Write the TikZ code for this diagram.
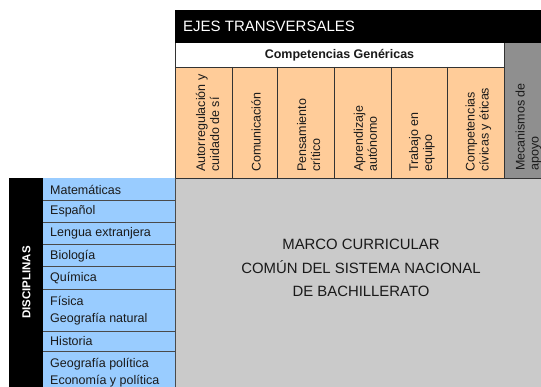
\documentclass[tikz,border=0pt]{standalone}
\usepackage{fontspec}
\setmainfont{Liberation Sans}
\definecolor{orangec}{HTML}{FFCC99}
\definecolor{bluec}{HTML}{99CCFF}
\definecolor{lgray}{HTML}{CACACA}
\definecolor{dgray}{HTML}{8F8F8F}
\definecolor{linec}{HTML}{333333}
\definecolor{rowline}{HTML}{4A4A4A}
\definecolor{txt}{HTML}{1A1A1A}
\tikzset{
  collabel/.style={rotate=90, anchor=west, align=left, inner sep=0pt, text=txt,
    font=\fontsize{12.5}{14}\selectfont},
  rowlabel/.style={anchor=west, align=left, inner sep=0pt, text=txt,
    font=\fontsize{12.5}{17.5}\selectfont},
  grid/.style={draw=linec, line width=0.8pt},
  rgrid/.style={draw=rowline, line width=1pt}
}
\begin{document}
\begin{tikzpicture}[x=1pt,y=-1pt]
\useasboundingbox (0,0) rectangle (541,387);
\clip (0,0) rectangle (541,387);
% backgrounds
\fill[white] (0,0) rectangle (541,387);
\fill[black] (175,10) rectangle (560,43);
\fill[white] (175,43) rectangle (504,67);
\fill[orangec] (175,67) rectangle (504,178);
\fill[dgray] (504,43) rectangle (560,178);
\fill[lgray] (175,178) rectangle (560,400);
\fill[black] (9,178) rectangle (43,400);
\fill[bluec] (43,178) rectangle (175,400);
% grid lines of the header
\draw[grid] (175,43) -- (175,178);
\draw[grid] (175,67) -- (504,67);
\foreach \xx in {232,277.5,334.5,391,447.5} {\draw[grid] (\xx,67) -- (\xx,178);}
\draw[grid] (504,43) -- (504,178);
\draw[grid] (175,178) -- (560,178);
% grid lines of the rows
\draw[rgrid] (175,178) -- (175,400);
\foreach \yy in {201,222.5,245,267,289.5,331.5,352} {\draw[rgrid] (43,\yy) -- (175,\yy);}
% header texts
\node[anchor=west, inner sep=0pt, text=white, font=\fontsize{15}{18}\selectfont] (ejes) at (183,26.5) {EJES TRANSVERSALES};
\node[inner sep=0pt, text=txt, font=\bfseries\fontsize{12.5}{15}\selectfont] (cg) at (339.5,55) {Competencias Genéricas};
\node[collabel] (c1) at (207.5,172) {Autorregulación y\\cuidado de sí};
\node[collabel] (c2) at (256,172) {Comunicación};
\node[collabel] (c3) at (308.7,172) {Pensamiento\\crítico};
\node[collabel] (c4) at (365.3,172) {Aprendizaje\\autónomo};
\node[collabel] (c5) at (422,172) {Trabajo en\\equipo};
\node[collabel] (c6) at (478.5,172) {Competencias\\cívicas y éticas};
\node[collabel] (c7) at (528.5,171) {Mecanismos de\\apoyo};
% disciplinas
\node[rotate=90, inner sep=0pt, text=white, font=\bfseries\fontsize{11.5}{14}\selectfont] (disc) at (26.5,282.5) {DISCIPLINAS};
\node[rowlabel] (r1) at (50,189.5) {Matemáticas};
\node[rowlabel] (r2) at (50,211.5) {Español};
\node[rowlabel] (r3) at (50,233.5) {Lengua extranjera};
\node[rowlabel] (r4) at (50,256) {Biología};
\node[rowlabel] (r5) at (50,278) {Química};
\node[rowlabel] (r6) at (50,310.5) {Física\\Geografía natural};
\node[rowlabel] (r7) at (50,341.5) {Historia};
\node[rowlabel] (r8) at (50,372.5) {Geografía política\\Economía y política};
% center text
\node[align=center, inner sep=0pt, text=txt, font=\fontsize{14.9}{23.5}\selectfont] (mc) at (361,268) {MARCO CURRICULAR\\COMÚN DEL SISTEMA NACIONAL\\DE BACHILLERATO};
\end{tikzpicture}
\end{document}
